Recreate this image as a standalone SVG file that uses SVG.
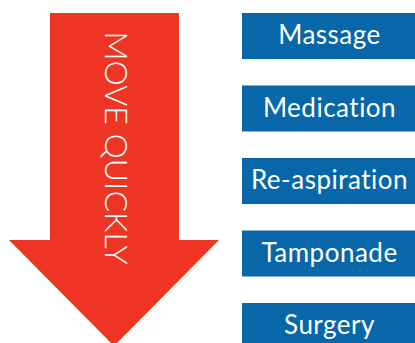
<svg xmlns="http://www.w3.org/2000/svg" width="415" height="343" viewBox="0 0 415 343">
<style>
.box{fill:#0767a8}
.lbl{font-family:Lato,"Noto Sans","Liberation Sans",sans-serif;font-size:26px;letter-spacing:0.5px;font-variant-ligatures:none;fill:#ffffff;text-anchor:middle}
.arrowtxt{font-family:Lato,"Noto Sans","Liberation Sans",sans-serif;font-weight:300;font-size:32px;fill:#ffffff;text-anchor:middle}
</style>
<rect width="415" height="343" fill="#ffffff"/>
<g id="arrow">
<polygon points="50,13 179,13 179,240 219,240 114,346 9,240 50,240" fill="#ee3524"/>
<text class="arrowtxt" transform="translate(105,148) rotate(90)">MOVE QUICKLY</text>
</g>
<g id="massage"><rect class="box" x="242" y="13" width="173" height="46"/><text class="lbl" x="329.5" y="44">Massage</text></g>
<g id="medication"><rect class="box" x="242" y="85.5" width="173" height="46"/><text class="lbl" x="329.5" y="116.5">Medication</text></g>
<g id="reaspiration"><rect class="box" x="242" y="158" width="173" height="46"/><text class="lbl" x="329.5" y="189">Re-aspiration</text></g>
<g id="tamponade"><rect class="box" x="242" y="230.5" width="173" height="46"/><text class="lbl" x="329.5" y="261.5">Tamponade</text></g>
<g id="surgery"><rect class="box" x="242" y="303" width="173" height="46"/><text class="lbl" x="329.5" y="334">Surgery</text></g>
<g id="connectors"></g>
</svg>
